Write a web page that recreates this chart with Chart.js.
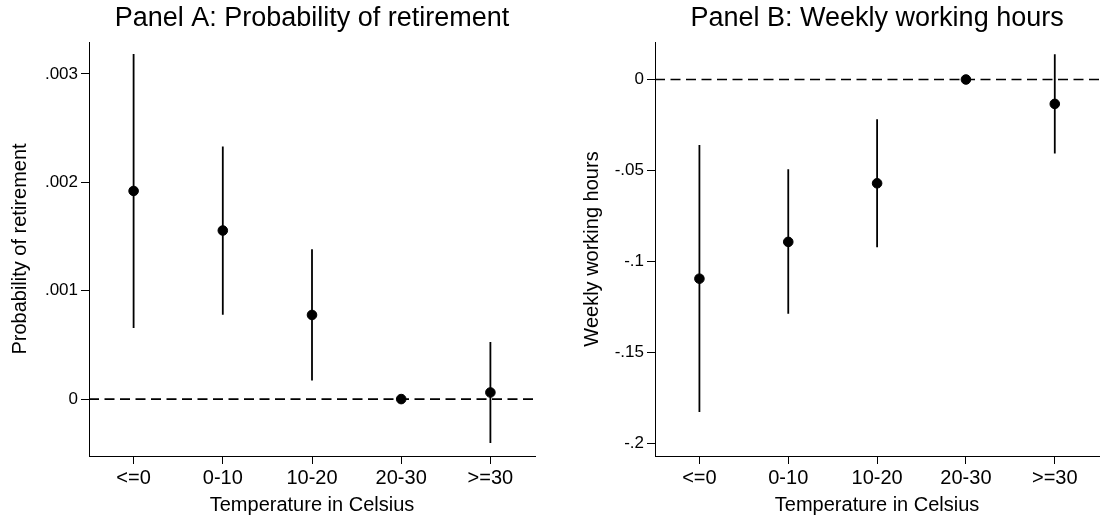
<!DOCTYPE html>
<html>
<head>
<meta charset="utf-8">
<script src="https://cdn.jsdelivr.net/npm/chart.js@4.4.0/dist/chart.umd.min.js"></script>
<style>
  body { margin: 0; background: #fff; }
  #wrap { position: relative; width: 1105px; height: 520px; }
  canvas { position: absolute; top: 0; }
</style>
</head>
<body>
<div id="wrap">
  <canvas id="panelA" width="552" height="520" style="left:0"></canvas>
  <canvas id="panelB" width="553" height="520" style="left:552px"></canvas>
</div>
<script>
// Temperature bins on the x axis
const categories = ['<=0', '0-10', '10-20', '20-30', '>=30'];

// Panel A: probability of retirement (point estimate and 95% CI)
const coefA = [0.00192, 0.001555, 0.000776, 0, 0.000061];
const lowA  = [0.000656, 0.000779, 0.000172, 0, -0.000405];
const highA = [0.003184, 0.002331, 0.001383, 0, 0.000527];
const yTicksA  = [0, 0.001, 0.002, 0.003];
const yLabelsA = ['0', '.001', '.002', '.003'];

// Panel B: weekly working hours (point estimate and 95% CI)
const coefB = [-0.1094, -0.0892, -0.057, 0, -0.0134];
const lowB  = [-0.1827, -0.1286, -0.0921, 0, -0.0406];
const highB = [-0.036, -0.0493, -0.0219, 0, 0.0139];
const yTicksB  = [-0.2, -0.15, -0.1, -0.05, 0];
const yLabelsB = ['-.2', '-.15', '-.1', '-.05', '0'];

const FONT = '"Liberation Sans", Arial, Helvetica, sans-serif';

function makePanel(id, cfg) {
  // CI segments: low -> high for each bin, broken by a null gap
  const ciPoints = [];
  categories.forEach((c, i) => {
    if (cfg.low[i] !== cfg.high[i]) {
      ciPoints.push({x: i, y: cfg.low[i]}, {x: i, y: cfg.high[i]}, {x: i, y: null});
    }
  });

  const ctx = document.getElementById(id).getContext('2d');
  new Chart(ctx, {
    type: 'scatter',
    data: {
      datasets: [
        {
          label: 'coef',
          data: cfg.coef.map((v, i) => ({x: i, y: v})),
          backgroundColor: '#000',
          borderColor: '#000',
          pointRadius: 4.8,
          pointHoverRadius: 4.8,
          order: 0
        },
        {
          label: 'ci',
          data: ciPoints,
          showLine: true,
          spanGaps: false,
          borderColor: '#000',
          borderWidth: 1.8,
          pointRadius: 0,
          order: 1
        },
        {
          label: 'zero',
          data: [{x: -0.5, y: 0}, {x: categories.length - 0.5, y: 0}],
          showLine: true,
          borderColor: '#000',
          borderWidth: 1.7,
          borderDash: [10, 5.5],
          pointRadius: 0,
          order: 2
        }
      ]
    },
    options: {
      responsive: false,
      animation: false,
      layout: { padding: { left: 0, right: cfg.padRight, top: 0, bottom: 0 } },
      plugins: {
        legend: { display: false },
        tooltip: { enabled: false },
        title: {
          display: true,
          text: cfg.title,
          fullSize: false,
          color: '#000',
          font: { family: FONT, size: 27, weight: 'normal' },
          padding: { top: 2.4, bottom: 7.2 }
        }
      },
      scales: {
        x: {
          type: 'linear',
          min: -0.5,
          max: categories.length - 0.5,
          afterBuildTicks: s => { s.ticks = categories.map((c, i) => ({value: i})); },
          ticks: {
            callback: v => categories[v],
            color: '#000',
            font: { family: FONT, size: 20 },
            padding: 2,
            maxRotation: 0
          },
          grid: { drawOnChartArea: false, drawTicks: true, tickLength: 8, color: '#000' },
          border: { color: '#000', width: 1 },
          title: {
            display: true,
            text: 'Temperature in Celsius',
            color: '#000',
            font: { family: FONT, size: 20 },
            padding: { top: 3, bottom: 3 }
          },
          afterFit: s => { s.height = 64; }
        },
        y: {
          min: cfg.min,
          max: cfg.max,
          afterBuildTicks: s => { s.ticks = cfg.yTicks.map(v => ({value: v})); },
          ticks: {
            callback: v => cfg.yLabels[cfg.yTicks.indexOf(v)],
            color: '#000',
            font: { family: FONT, size: 17 },
            padding: 3
          },
          grid: { drawOnChartArea: false, drawTicks: true, tickLength: 8, color: '#000' },
          border: { color: '#000', width: 1 },
          title: {
            display: true,
            text: cfg.yTitle,
            color: '#000',
            font: { family: FONT, size: 20 },
            padding: { top: cfg.yTitlePad, bottom: cfg.yTitlePad }
          },
          afterFit: s => { s.width = cfg.yWidth; }
        }
      }
    }
  });
}

makePanel('panelA', {
  title: 'Panel A: Probability of retirement',
  yTitle: 'Probability of retirement',
  coef: coefA, low: lowA, high: highA,
  yTicks: yTicksA, yLabels: yLabelsA,
  min: -0.000525, max: 0.003294,
  yWidth: 89, padRight: 17, yTitlePad: 8
});

makePanel('panelB', {
  title: 'Panel B: Weekly working hours',
  yTitle: 'Weekly working hours',
  coef: coefB, low: lowB, high: highB,
  yTicks: yTicksB, yLabels: yLabelsB,
  min: -0.2068, max: 0.0206,
  yWidth: 103, padRight: 2, yTitlePad: 28
});
</script>
</body>
</html>
